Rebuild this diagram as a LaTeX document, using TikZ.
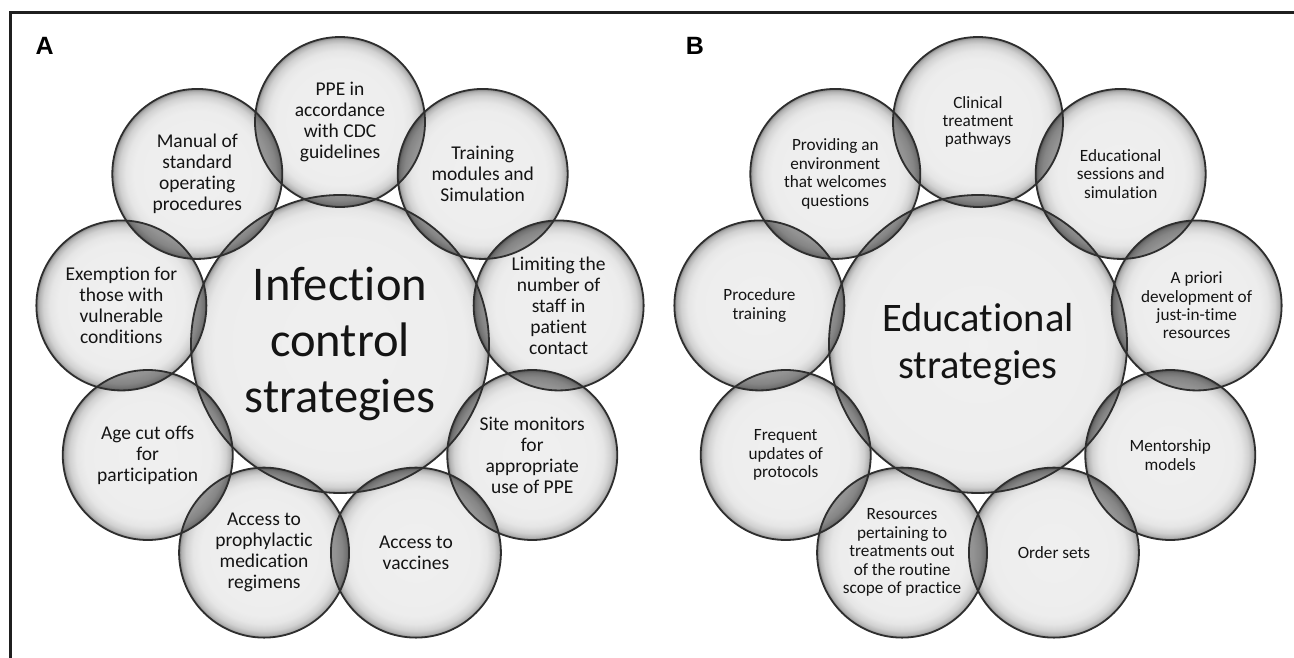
\documentclass[tikz,border=0pt]{standalone}
\usepackage{fontspec}
\setmainfont{Carlito}[Ligatures=NoCommon]
\newfontfamily\panelfont{Liberation Sans}
\usetikzlibrary{calc}

% soft bubbles: pale centre, a narrow darker band at the rim (rim sits at 25bp)
\pgfdeclareradialshading{bubble}{\pgfpoint{0bp}{0bp}}{%
  color(0bp)=(black!6); color(18.5bp)=(black!7); color(21bp)=(black!10);
  color(23bp)=(black!18); color(24.3bp)=(black!30); color(25bp)=(black!48);
  color(50bp)=(black!48)}
\pgfdeclareradialshading{bigbubble}{\pgfpoint{0bp}{0bp}}{%
  color(0bp)=(black!6); color(21bp)=(black!7); color(22.8bp)=(black!10);
  color(24bp)=(black!18); color(24.6bp)=(black!30); color(25bp)=(black!46);
  color(50bp)=(black!46)}

\begin{document}
\begin{tikzpicture}[x=1pt,y=-1pt,
  ball/.style={circle, inner sep=0pt, shade, draw=none,
    align=center, text=black!92},
  leafA/.style={ball, shading=bubble, minimum size=170pt, font=\fontsize{19.5}{21}\selectfont},
  leafB/.style={ball, shading=bubble, minimum size=170pt, font=\fontsize{17.2}{18.4}\selectfont},
  hubA/.style={ball, shading=bigbubble, minimum size=298pt, font=\fontsize{48.5}{56}\selectfont},
  hubB/.style={ball, shading=bigbubble, minimum size=298pt, font=\fontsize{40.5}{47}\selectfont},
  lens/.style={fill=black, fill opacity=0.36},
  rim/.style={draw=black!82, line width=1.8pt},
  frame/.style={draw=black!88, line width=2.6pt},
  panel/.style={font=\panelfont\bfseries\fontsize{25}{27}\selectfont}]

\useasboundingbox (0,0) rectangle (1294,658);

% frame: top and left rules
\coordinate (fbl) at (10.5,658);
\coordinate (ftl) at (10.5,12.5);
\coordinate (ftr) at (1294,12.5);
\draw[frame] (fbl) -- (ftl) -- (ftr);

\node[panel] (labA) at (44.7,45.5) {A};
\node[panel] (labB) at (695,45.5) {B};

% panel A
\begin{scope}[shift={(340,344)}]
  \node[hubA] (a0) at (0,0) {Infection\\control\\strategies};
  \node[leafA] (a1) at (-90:222) {PPE in\\accordance\\with CDC\\guidelines};
  \node[leafA] (a2) at (-50:222) {Training\\modules and\\Simulation};
  \node[leafA] (a3) at (-10:222) {Limiting the\\number of\\staff in\\patient\\contact};
  \node[leafA] (a4) at (30:222) {Site monitors\\for\\appropriate\\use of PPE};
  \node[leafA] (a5) at (70:222) {Access to\\vaccines};
  \node[leafA] (a6) at (110:222) {Access to\\prophylactic\\medication\\regimens};
  \node[leafA] (a7) at (150:222) {Age cut offs\\for\\participation};
  \node[leafA] (a8) at (190:222) {Exemption for\\those with\\vulnerable\\conditions};
  \node[leafA] (a9) at (230:222) {Manual of\\standard\\operating\\procedures};
\end{scope}

% panel B
\begin{scope}[shift={(978,344)}]
  \node[hubB] (b0) at (0,0) {Educational\\strategies};
  \node[leafB] (b1) at (-90:222) {Clinical\\treatment\\pathways};
  \node[leafB] (b2) at (-50:222) {Educational\\sessions and\\simulation};
  \node[leafB] (b3) at (-10:222) {A priori\\development of\\just-in-time\\resources};
  \node[leafB] (b4) at (30:222) {Mentorship\\models};
  \node[leafB] (b5) at (70:222) {Order sets};
  \node[leafB] (b6) at (110:222) {Resources\\pertaining to\\treatments out\\of the routine\\scope of practice};
  \node[leafB] (b7) at (150:222) {Frequent\\updates of\\protocols};
  \node[leafB] (b8) at (190:222) {Procedure\\training};
  \node[leafB] (b9) at (230:222) {Providing an\\environment\\that welcomes\\questions};
\end{scope}

% darker lenses where neighbouring bubbles overlap
\foreach \p in {a,b}{
  \foreach \i [evaluate=\i as \j using {int(mod(\i,9)+1)}] in {1,...,9}{
    \begin{scope}
      \clip (\p\i.center) circle[radius=85pt];
      \fill[lens] (\p\j.center) circle[radius=85pt];
      \fill[lens] (\p0.center) circle[radius=149pt];
    \end{scope}
  }
}

% outlines on top
\foreach \p in {a,b}{
  \draw[rim] (\p0.center) circle[radius=149pt];
  \foreach \i in {1,...,9}{
    \draw[rim] (\p\i.center) circle[radius=85pt];
  }
}
\end{tikzpicture}
\end{document}
